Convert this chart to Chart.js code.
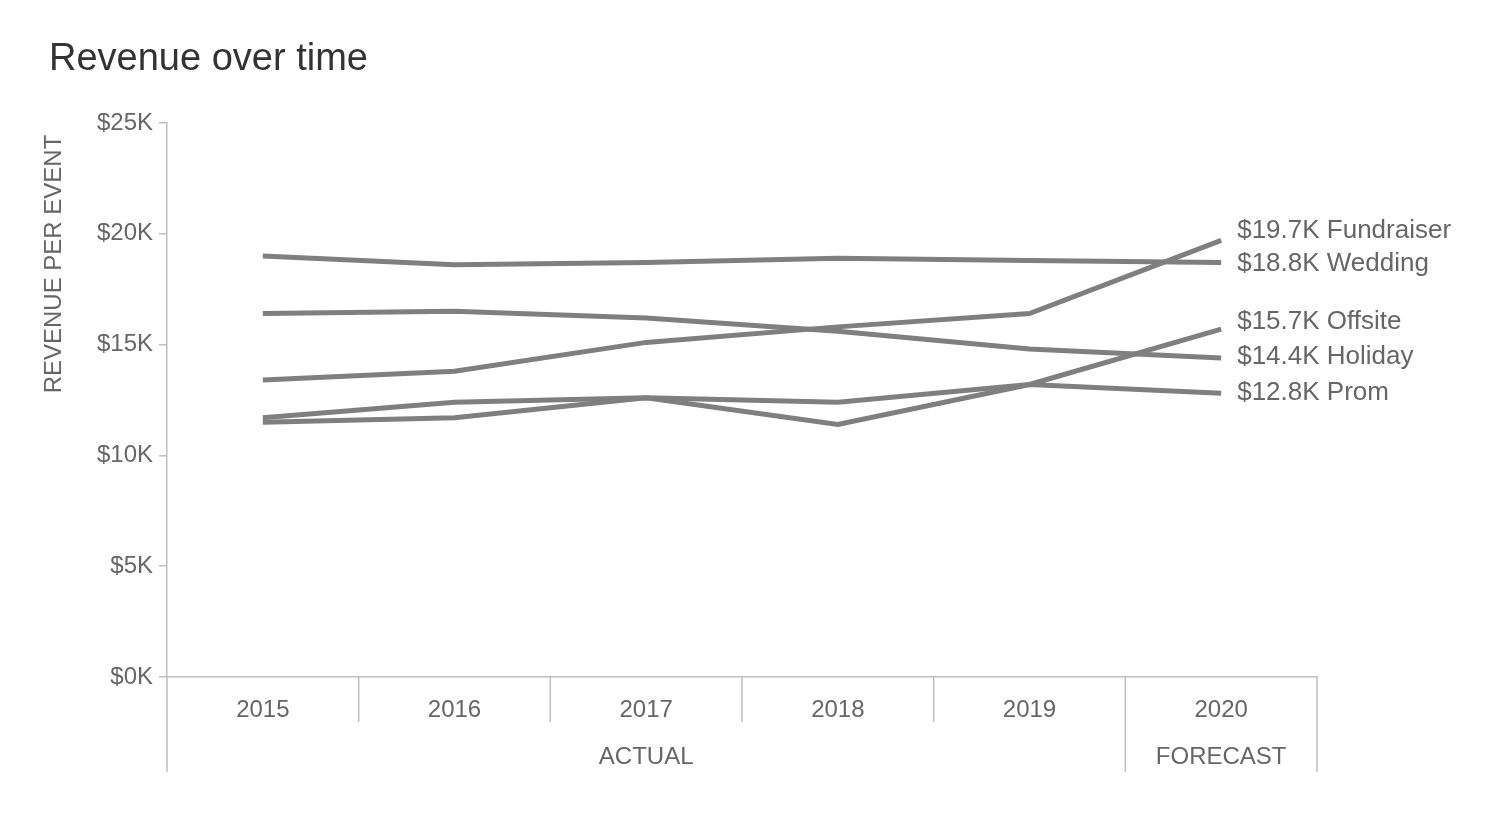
<!DOCTYPE html>
<html>
<head>
<meta charset="utf-8">
<script src="https://cdn.jsdelivr.net/npm/chart.js@4.4.0/dist/chart.umd.min.js"></script>
<style>
  html, body { margin: 0; padding: 0; background: #fff; }
  #wrap { width: 1499px; height: 818px; }
</style>
</head>
<body>
<div id="wrap"><canvas id="chart"></canvas></div>
<script>
const years = ['2015', '2016', '2017', '2018', '2019', '2020'];
const groups = [
    { label: 'ACTUAL', from: 0, to: 4 },
    { label: 'FORECAST', from: 5, to: 5 }
];
const seriesNames = ['Fundraiser', 'Wedding', 'Offsite', 'Holiday', 'Prom'];
const fundraiser = [13.4, 13.8, 15.1, 15.8, 16.4, 19.7];
const wedding = [19.0, 18.6, 18.7, 18.9, 18.8, 18.7];
const offsite = [11.5, 11.7, 12.6, 11.4, 13.2, 15.7];
const holiday = [16.4, 16.5, 16.2, 15.6, 14.8, 14.4];
const prom = [11.7, 12.4, 12.6, 12.4, 13.2, 12.8];
const endLabels = ['$19.7K', '$18.8K', '$15.7K', '$14.4K', '$12.8K'];

const GREY = '#7f7f7f';
const TEXT = '#666666';
const AXIS = '#bfbfbf';
const FONT = '"Liberation Sans", Arial, sans-serif';

// label nudges so the end labels don't collide
const labelNudge = [-10, 1, -7, -1, -1];

const decorPlugin = {
    id: 'decor',
    afterDraw(chart) {
        const ctx = chart.ctx;
        const x = chart.scales.x;
        const area = chart.chartArea;
        ctx.save();

        // title
        ctx.fillStyle = '#333333';
        ctx.font = '38px ' + FONT;
        ctx.textBaseline = 'middle';
        ctx.textAlign = 'left';
        ctx.fillText('Revenue over time', 49, 60);

        // y axis title
        ctx.save();
        ctx.translate(54, 264);
        ctx.rotate(-Math.PI / 2);
        ctx.fillStyle = TEXT;
        ctx.font = '24px ' + FONT;
        ctx.textAlign = 'center';
        ctx.fillText('REVENUE PER EVENT', 0, 0);
        ctx.restore();

        // year labels + separators
        const half = (x.getPixelForValue(1) - x.getPixelForValue(0)) / 2;
        ctx.strokeStyle = AXIS;
        ctx.lineWidth = 1.5;
        ctx.fillStyle = TEXT;
        ctx.font = '24px ' + FONT;
        ctx.textAlign = 'center';
        years.forEach((y, i) => {
            const cx = x.getPixelForValue(i);
            ctx.fillText(y, cx, area.bottom + 33);
        });
        const groupEdges = new Set();
        groups.forEach(g => { groupEdges.add(g.from); groupEdges.add(g.to + 1); });
        for (let i = 0; i <= years.length; i++) {
            const px = x.getPixelForValue(i) - half;
            const bottom = groupEdges.has(i) ? area.bottom + 95 : area.bottom + 45;
            ctx.beginPath();
            ctx.moveTo(px, area.bottom);
            ctx.lineTo(px, bottom);
            ctx.stroke();
        }
        groups.forEach(g => {
            const cx = (x.getPixelForValue(g.from) + x.getPixelForValue(g.to)) / 2;
            ctx.fillText(g.label, cx, area.bottom + 80);
        });

        // end labels
        ctx.textAlign = 'left';
        ctx.font = '26px ' + FONT;
        chart.data.datasets.forEach((ds, i) => {
            const pt = chart.getDatasetMeta(i).data[ds.data.length - 1];
            ctx.fillText(endLabels[i] + ' ' + seriesNames[i], pt.x + 16, pt.y + labelNudge[i]);
        });
        ctx.restore();
    }
};

const allSeries = [fundraiser, wedding, offsite, holiday, prom];

new Chart(document.getElementById('chart'), {
    type: 'line',
    data: {
        labels: years,
        datasets: allSeries.map((d, i) => ({
            label: seriesNames[i],
            data: d,
            borderColor: GREY,
            borderWidth: 5,
            pointRadius: 0,
            tension: 0,
            fill: false
        }))
    },
    options: {
        responsive: true,
        maintainAspectRatio: false,
        animation: false,
        devicePixelRatio: 1,
        layout: { padding: { top: 123, right: 182, left: 0, bottom: 0 } },
        plugins: { legend: { display: false }, tooltip: { enabled: false } },
        scales: {
            x: {
                offset: true,
                ticks: { display: false },
                grid: { display: false },
                border: { color: AXIS, width: 1.5 },
                afterFit(scale) { scale.height = 141; }
            },
            y: {
                min: 0,
                max: 25,
                ticks: {
                    stepSize: 5,
                    color: TEXT,
                    font: { family: FONT, size: 24 },
                    padding: 6,
                    callback: v => '$' + v + 'K'
                },
                grid: { drawOnChartArea: false, tickLength: 8, color: AXIS, lineWidth: 1.5 },
                border: { color: AXIS, width: 1.5 },
                afterFit(scale) { scale.width = 167; }
            }
        }
    },
    plugins: [decorPlugin]
});
</script>
</body>
</html>
